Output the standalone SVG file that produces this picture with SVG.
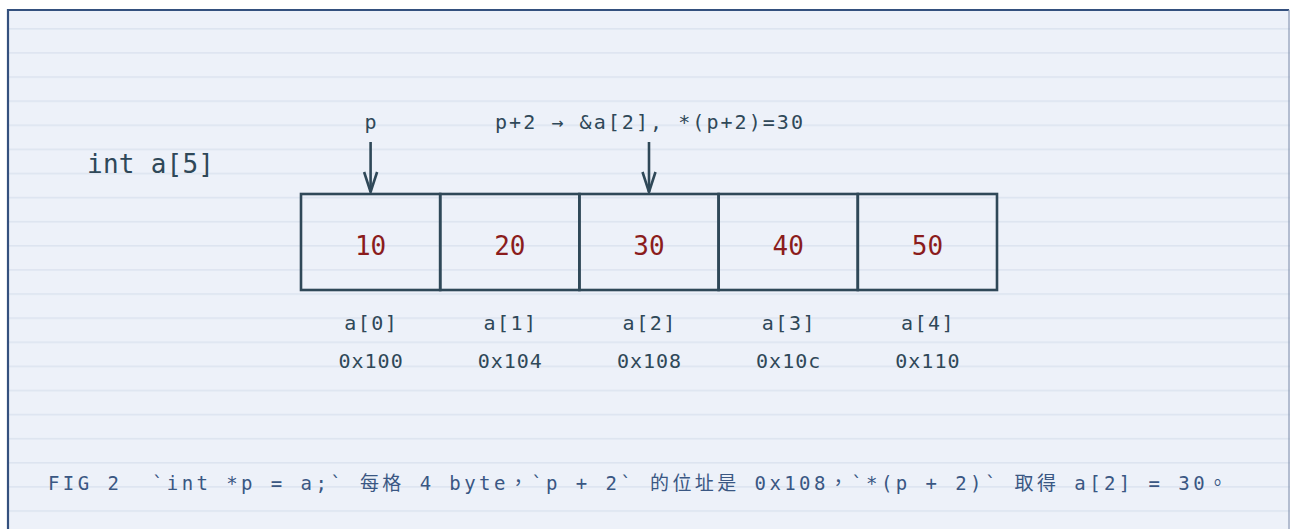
<svg xmlns="http://www.w3.org/2000/svg" width="1290" height="529" viewBox="0 0 1290 529">
<defs>
<pattern id="rules" x="0" y="3.9" width="1290" height="24.11" patternUnits="userSpaceOnUse">
<rect x="0" y="0" width="1290" height="1.6" fill="#dde4f0"/>
</pattern>
<marker id="chev" viewBox="0 0 24 20" refX="21" refY="10" markerWidth="24" markerHeight="20" markerUnits="userSpaceOnUse" orient="auto">
<path d="M1 3.5 L21 10 L1 16.5" fill="none" stroke="#2f4858" stroke-width="2.6" stroke-linejoin="miter"/>
</marker>
</defs>
<style>
.mono{font-family:"DejaVu Sans Mono","Liberation Mono",monospace;}
.ink{fill:#2f4858;}
.val{fill:#8b1c1c;font-size:26px;}
.cell{fill:none;stroke:#2f4858;stroke-width:2.6;}
.idx{font-size:20px;letter-spacing:1.5px;}
.addr{font-size:20px;letter-spacing:1px;}
.cap{fill:#3a5783;font-size:19px;font-family:"DejaVu Sans Mono","Noto Sans CJK TC",monospace;}
</style>
<rect x="0" y="0" width="1290" height="529" fill="#ffffff"/>
<rect x="7" y="9" width="1290" height="530" fill="#edf1f9"/>
<rect x="7" y="9" width="1290" height="530" fill="url(#rules)"/>
<path d="M8 529 V10 H1289" fill="none" stroke="#34507e" stroke-width="2.2"/>
<path d="M1289 10 V529" fill="none" stroke="#8d9bb5" stroke-width="1.2"/>

<g id="title"><text class="mono ink" x="87" y="173" font-size="26" textLength="127" lengthAdjust="spacing">int a[5]</text></g>

<g id="array">
<g id="cell0"><rect class="cell" x="301" y="194" width="139.2" height="96"/><text class="mono val" x="370.6" y="255" text-anchor="middle">10</text><text class="mono ink idx" x="371.3" y="330" text-anchor="middle">a[0]</text><text class="mono ink addr" x="371.1" y="368" text-anchor="middle">0x100</text></g>
<g id="cell1"><rect class="cell" x="440.2" y="194" width="139.2" height="96"/><text class="mono val" x="509.8" y="255" text-anchor="middle">20</text><text class="mono ink idx" x="510.5" y="330" text-anchor="middle">a[1]</text><text class="mono ink addr" x="510.3" y="368" text-anchor="middle">0x104</text></g>
<g id="cell2"><rect class="cell" x="579.4" y="194" width="139.2" height="96"/><text class="mono val" x="649" y="255" text-anchor="middle">30</text><text class="mono ink idx" x="649.7" y="330" text-anchor="middle">a[2]</text><text class="mono ink addr" x="649.5" y="368" text-anchor="middle">0x108</text></g>
<g id="cell3"><rect class="cell" x="718.6" y="194" width="139.2" height="96"/><text class="mono val" x="788.2" y="255" text-anchor="middle">40</text><text class="mono ink idx" x="788.9" y="330" text-anchor="middle">a[3]</text><text class="mono ink addr" x="788.7" y="368" text-anchor="middle">0x10c</text></g>
<g id="cell4"><rect class="cell" x="857.8" y="194" width="139.2" height="96"/><text class="mono val" x="927.4" y="255" text-anchor="middle">50</text><text class="mono ink idx" x="928.1" y="330" text-anchor="middle">a[4]</text><text class="mono ink addr" x="927.9" y="368" text-anchor="middle">0x110</text></g>
</g>

<g id="ptr-p"><text class="mono ink" x="370.6" y="129" font-size="20" text-anchor="middle">p</text></g>
<g id="ptr-p2"><text class="mono ink" x="495" y="129" font-size="20" textLength="308" lengthAdjust="spacing">p+2 → &amp;a[2], *(p+2)=30</text></g>

<g id="connectors">
<line x1="370.6" y1="142" x2="370.6" y2="192" stroke="#2f4858" stroke-width="2.6" marker-end="url(#chev)"/>
<line x1="649" y1="142" x2="649" y2="192" stroke="#2f4858" stroke-width="2.6" marker-end="url(#chev)"/>
</g>

<g id="caption"><text class="cap" x="48" y="490" textLength="1179" lengthAdjust="spacing" xml:space="preserve">FIG 2  `int *p = a;` 每格 4 byte，`p + 2` 的位址是 0x108，`*(p + 2)` 取得 a[2] = 30。</text></g>
</svg>
